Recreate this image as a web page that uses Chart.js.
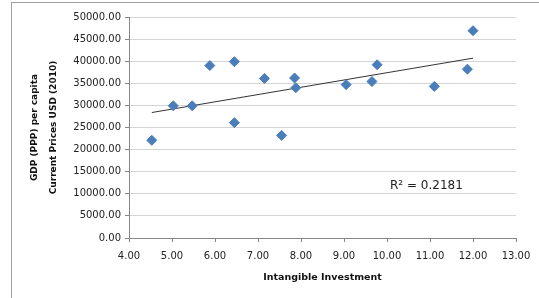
<!DOCTYPE html>
<html>
<head>
<meta charset="utf-8">
<script src="https://cdn.jsdelivr.net/npm/chart.js@4"></script>
<style>
  body { margin: 0; background: #fff; }
  .frame { position: absolute; left: 11px; top: 2px; width: 600px; height: 400px; border: 1px solid #a0a0a0; }
  .wrap { position: absolute; left: 0; top: 0; width: 539px; height: 298px; }
</style>
</head>
<body>
<div class="frame"></div>
<div class="wrap"><canvas id="c" width="539" height="298"></canvas></div>
<script>
// intangible investment (x) vs GDP per capita (y)
const investment = [4.53, 5.03, 5.47, 5.88, 6.45, 6.45, 7.15, 7.55, 7.85, 7.88, 9.05, 9.65, 9.77, 11.10, 11.87, 12.00];
const gdp = [22100, 29900, 29900, 39000, 39900, 26100, 36100, 23200, 36200, 34000, 34700, 35400, 39200, 34300, 38200, 46900];
const xTicks = [4, 5, 6, 7, 8, 9, 10, 11, 12, 13];
const yTicks = [0, 5000, 10000, 15000, 20000, 25000, 30000, 35000, 40000, 45000, 50000];

const points = investment.map((x, i) => ({ x: x, y: gdp[i] }));

// least squares trendline like excel
const n = investment.length;
const mx = investment.reduce((a, b) => a + b, 0) / n;
const my = gdp.reduce((a, b) => a + b, 0) / n;
let sxy = 0, sxx = 0;
for (let i = 0; i < n; i++) {
    sxy += (investment[i] - mx) * (gdp[i] - my);
    sxx += (investment[i] - mx) ** 2;
}
const slope = sxy / sxx;
const icept = my - slope * mx;
const xMin = Math.min(...investment), xMax = Math.max(...investment);
const trend = [{ x: xMin, y: icept + slope * xMin }, { x: xMax, y: icept + slope * xMax }];

const rLabel = {
    id: "rLabel",
    afterDraw(chart) {
        const ctx = chart.ctx;
        ctx.save();
        ctx.font = "12px 'DejaVu Sans'";
        ctx.fillStyle = "#222";
        ctx.textBaseline = "middle";
        ctx.fillText("R\u00b2 = 0.2181", 390, 186);
        ctx.restore();
    }
};

new Chart(document.getElementById("c"), {
    type: "scatter",
    data: {
        datasets: [
            {
                data: points,
                pointStyle: "rectRot",
                pointRadius: 5,
                pointBackgroundColor: "#4a7ebb",
                pointBorderColor: "#4a7ebb",
                order: 1
            },
            {
                type: "line",
                data: trend,
                borderColor: "#333",
                borderWidth: 1,
                pointRadius: 0,
                order: 2
            }
        ]
    },
    options: {
        responsive: false,
        animation: false,
        layout: { padding: { left: 0, right: 23, top: 17, bottom: 0 } },
        plugins: { legend: { display: false }, tooltip: { enabled: false } },
        scales: {
            x: {
                type: "linear",
                min: 4, max: 13,
                afterBuildTicks: s => { s.ticks = xTicks.map(v => ({ value: v })); },
                ticks: { font: { family: "DejaVu Sans", size: 10 }, color: "#222", callback: v => v.toFixed(2), padding: 8, maxRotation: 0 },
                grid: { drawOnChartArea: false, tickLength: 4, color: "#868686" },
                border: { color: "#868686" },
                title: { display: true, text: "Intangible Investment", font: { family: "DejaVu Sans", size: 9.5, weight: "bold" }, color: "#111", padding: { top: 6, bottom: 15 } },
                afterFit: s => { s.height = 60; }
            },
            y: {
                min: 0, max: 50000,
                afterBuildTicks: s => { s.ticks = yTicks.map(v => ({ value: v })); },
                ticks: { font: { family: "DejaVu Sans", size: 10 }, color: "#222", callback: v => v.toFixed(2), padding: 4 },
                grid: { color: "#d4d4d4", tickColor: "#868686", tickLength: 4 },
                border: { color: "#868686" },
                title: { display: true, text: ["GDP (PPP) per capita", "Current Prices USD (2010)"], font: { family: "DejaVu Sans", size: 9, weight: "bold", lineHeight: 2.1 }, color: "#111", padding: { top: 25, bottom: 0 } },
                afterFit: s => { s.width = 129; }
            }
        }
    },
    plugins: [rLabel]
});
</script>
</body>
</html>
